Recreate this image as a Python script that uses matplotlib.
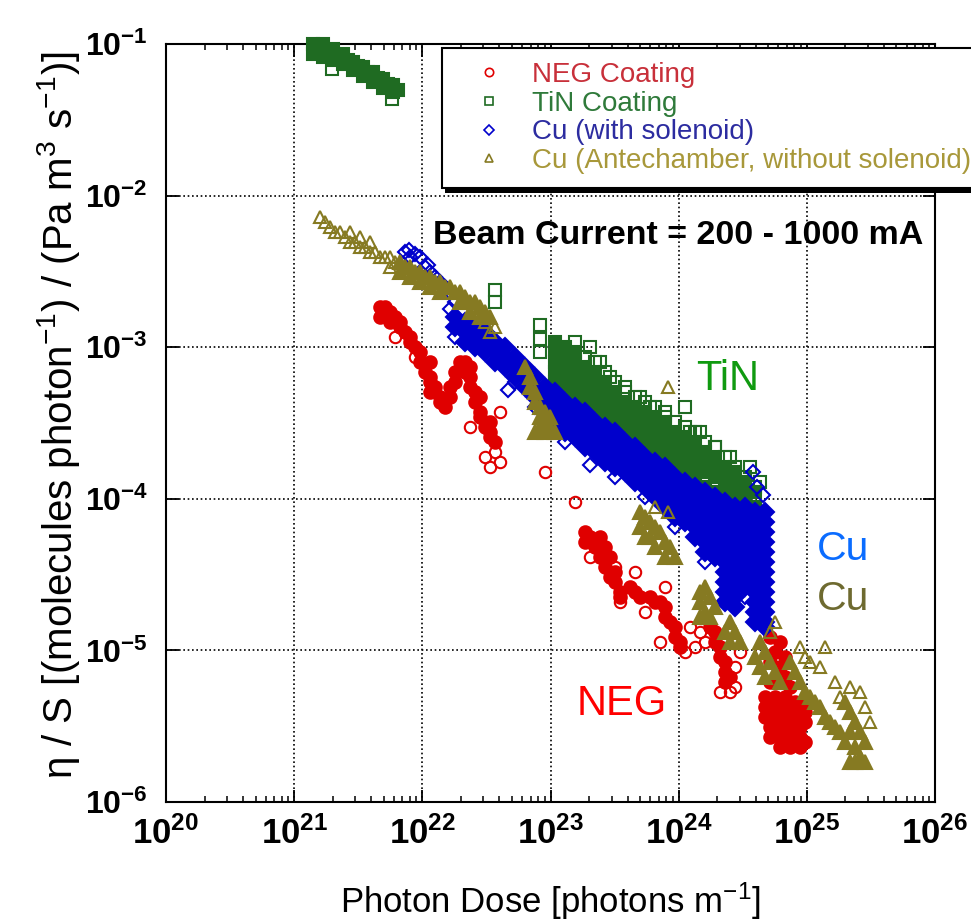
import matplotlib
matplotlib.use('Agg')
import matplotlib.pyplot as plt
from matplotlib.lines import Line2D
from matplotlib.patches import Rectangle
from matplotlib.transforms import IdentityTransform
from matplotlib.ticker import LogLocator, NullLocator, FixedLocator

plt.rcParams['font.family'] = ['Liberation Sans', 'DejaVu Sans']
plt.rcParams['mathtext.fontset'] = 'custom'
plt.rcParams['mathtext.rm'] = 'Liberation Sans'
plt.rcParams['mathtext.bf'] = 'Liberation Sans:bold'
plt.rcParams['mathtext.default'] = 'regular'

# ---------------- data (photon dose [photons/m], eta/S) ----------------
series_labels = ['NEG Coating', 'TiN Coating', 'Cu (with solenoid)',
                 'Cu (Antechamber, without solenoid)']

# NEG coating (red circles)
neg_dense = [
    (4.68e21, 1.84e-3), (5.12e21, 1.84e-3), (5.60e21, 1.71e-3), (4.68e21, 1.58e-3),
    (6.12e21, 1.58e-3), (5.60e21, 1.47e-3), (6.70e21, 1.47e-3), (6.70e21, 1.36e-3),
    (7.33e21, 1.26e-3), (8.02e21, 1.17e-3), (8.02e21, 1.08e-3), (8.77e21, 1.00e-3),
    (9.60e21, 9.29e-4), (9.60e21, 7.98e-4), (1.15e22, 7.98e-4), (1.05e22, 6.86e-4),
    (1.15e22, 6.36e-4), (1.15e22, 5.89e-4), (1.26e22, 5.46e-4), (1.15e22, 5.06e-4),
    (1.37e22, 4.69e-4), (1.37e22, 4.35e-4), (1.50e22, 4.03e-4), (1.64e22, 4.69e-4),
    (1.64e22, 5.46e-4), (1.80e22, 5.89e-4), (1.80e22, 6.86e-4), (1.97e22, 7.98e-4),
    (2.15e22, 7.98e-4), (2.15e22, 6.86e-4), (2.35e22, 7.40e-4), (2.35e22, 6.36e-4),
    (2.35e22, 5.46e-4), (2.58e22, 5.06e-4), (2.82e22, 4.69e-4), (2.58e22, 4.35e-4),
    (2.82e22, 3.74e-4), (2.82e22, 3.46e-4), (3.37e22, 3.21e-4), (3.08e22, 2.98e-4),
    (3.37e22, 2.76e-4), (3.37e22, 2.56e-4), (3.69e22, 2.37e-4),
    (1.86e23, 6.04e-5), (2.03e23, 5.60e-5), (2.43e23, 5.60e-5), (1.86e23, 5.19e-5),
    (2.22e23, 4.81e-5), (2.66e23, 4.81e-5), (2.43e23, 4.13e-5), (2.91e23, 4.13e-5),
    (2.66e23, 3.55e-5), (3.18e23, 3.29e-5), (2.91e23, 3.05e-5), (3.18e23, 2.83e-5),
    (3.48e23, 2.43e-5), (3.48e23, 2.25e-5), (4.17e23, 2.62e-5), (4.56e23, 2.43e-5),
    (4.99e23, 2.25e-5), (5.97e23, 2.25e-5), (6.53e23, 2.08e-5), (7.14e23, 2.08e-5),
    (7.82e23, 1.93e-5), (7.82e23, 1.66e-5), (8.55e23, 1.54e-5), (9.35e23, 1.43e-5),
    (9.35e23, 1.22e-5), (1.02e24, 1.14e-5), (1.02e24, 1.05e-5),
    (1.75e24, 1.43e-5), (1.92e24, 1.32e-5), (1.92e24, 1.14e-5), (2.10e24, 1.05e-5),
    (2.10e24, 9.03e-6), (2.30e24, 8.38e-6), (2.30e24, 7.21e-6), (2.51e24, 6.68e-6),
    (2.30e24, 6.19e-6),
    (5.15e24, 1.22e-5), (6.17e24, 1.14e-5), (5.64e24, 9.75e-6), (6.75e24, 9.03e-6),
    (5.15e24, 8.38e-6), (6.17e24, 7.76e-6), (6.75e24, 6.68e-6), (5.15e24, 6.19e-6),
    (7.38e24, 5.74e-6), (4.71e24, 4.93e-6), (5.64e24, 4.93e-6), (6.75e24, 4.93e-6),
    (8.07e24, 4.57e-6), (9.66e24, 4.57e-6), (4.71e24, 4.24e-6), (5.64e24, 4.24e-6),
    (6.75e24, 4.24e-6), (8.07e24, 4.24e-6), (9.66e24, 3.93e-6), (4.71e24, 3.64e-6),
    (5.64e24, 3.64e-6), (6.75e24, 3.64e-6), (8.07e24, 3.64e-6), (9.66e24, 3.37e-6),
    (5.15e24, 3.13e-6), (6.17e24, 3.13e-6), (7.38e24, 3.13e-6), (8.83e24, 3.13e-6),
    (5.15e24, 2.69e-6), (6.17e24, 2.69e-6), (7.38e24, 2.69e-6), (8.83e24, 2.69e-6),
    (9.66e24, 2.49e-6), (6.17e24, 2.31e-6), (7.38e24, 2.31e-6), (8.83e24, 2.31e-6),
]
neg_open = [
    (6.12e21, 1.17e-3), (8.77e21, 8.61e-4), (2.35e22, 2.98e-4), (4.04e22, 3.74e-4),
    (3.08e22, 1.89e-4), (3.69e22, 2.04e-4), (3.37e22, 1.62e-4), (4.04e22, 1.75e-4),
    (9.06e22, 1.50e-4), (1.55e23, 9.53e-5), (2.03e23, 4.13e-5), (3.18e23, 3.55e-5),
    (4.56e23, 3.29e-5), (3.48e23, 2.08e-5), (7.82e23, 2.62e-5), (1.22e24, 1.43e-5),
    (1.47e24, 1.32e-5), (1.34e24, 1.05e-5), (1.60e24, 1.14e-5), (2.75e24, 7.76e-6),
    (2.75e24, 5.74e-6), (2.51e24, 5.32e-6), (3.01e24, 9.75e-6), (2.10e24, 5.32e-6),
    (7.14e23, 1.14e-5), (1.12e24, 9.75e-6), (5.46e23, 1.79e-5), (4.30e24, 9.75e-6),
]

# TiN coating (green squares)
tin_dense = [
    (1.41e21, 0.100), (1.41e21, 0.0859), (1.53e21, 0.0927), (1.68e21, 0.100),
    (1.68e21, 0.0820), (1.84e21, 0.0885), (2.01e21, 0.0927), (2.01e21, 0.0783),
    (2.20e21, 0.0820), (2.40e21, 0.0859), (2.40e21, 0.0738), (2.63e21, 0.0783),
    (2.88e21, 0.0760), (2.88e21, 0.0673), (3.15e21, 0.0716), (3.44e21, 0.0705),
    (3.44e21, 0.0615), (3.77e21, 0.0653), (4.12e21, 0.0653), (4.12e21, 0.0561),
    (4.51e21, 0.0597), (4.93e21, 0.0587), (4.93e21, 0.0513), (5.40e21, 0.0545),
    (5.90e21, 0.0537), (5.90e21, 0.0482), (6.46e21, 0.0498),
]
tin_dense_cols = [
    (1.08e23, [1.08e-3, 9.29e-4, 7.98e-4, 6.86e-4, 5.89e-4, 5.06e-4]),
    (1.30e23, [1.00e-3, 8.61e-4, 7.40e-4, 6.36e-4, 5.46e-4, 4.69e-4]),
    (1.55e23, [9.29e-4, 7.98e-4, 6.86e-4, 5.89e-4, 5.06e-4, 4.35e-4]),
    (1.86e23, [7.40e-4, 6.36e-4, 5.46e-4, 4.69e-4, 4.03e-4]),
    (2.22e23, [6.86e-4, 5.89e-4, 5.06e-4, 4.35e-4, 3.74e-4]),
    (2.66e23, [5.89e-4, 5.06e-4, 4.35e-4, 3.74e-4, 3.21e-4]),
    (3.18e23, [5.06e-4, 4.35e-4, 3.74e-4, 3.21e-4, 2.76e-4]),
    (3.81e23, [4.35e-4, 3.74e-4, 3.21e-4, 2.76e-4, 2.56e-4]),
    (4.56e23, [4.03e-4, 3.46e-4, 2.98e-4, 2.56e-4, 2.20e-4]),
    (5.46e23, [3.74e-4, 3.21e-4, 2.76e-4, 2.37e-4, 2.04e-4]),
    (6.53e23, [3.46e-4, 2.98e-4, 2.56e-4, 2.20e-4, 1.89e-4]),
    (7.82e23, [3.21e-4, 2.76e-4, 2.37e-4, 2.04e-4, 1.75e-4]),
    (9.35e23, [2.76e-4, 2.37e-4, 2.04e-4, 1.75e-4, 1.50e-4]),
    (1.12e24, [2.56e-4, 2.20e-4, 1.89e-4, 1.62e-4, 1.39e-4]),
    (1.34e24, [2.37e-4, 2.04e-4, 1.75e-4, 1.50e-4, 1.29e-4]),
    (1.60e24, [2.04e-4, 1.75e-4, 1.50e-4, 1.20e-4]),
    (1.92e24, [1.89e-4, 1.62e-4, 1.39e-4, 1.11e-4]),
    (2.30e24, [1.62e-4, 1.39e-4, 1.20e-4, 1.03e-4]),
    (2.75e24, [1.50e-4, 1.29e-4, 1.11e-4, 9.53e-5]),
    (3.29e24, [1.29e-4, 1.11e-4, 9.53e-5]),
    (3.94e24, [1.11e-4, 8.83e-5]),
]
tin_open = [
    (1.97e21, 0.0684), (5.80e21, 0.0434), (3.69e22, 2.38e-3), (3.69e22, 1.99e-3),
    (8.28e22, 1.40e-3), (8.28e22, 1.13e-3), (8.28e22, 9.29e-4), (1.55e23, 1.08e-3),
    (2.03e23, 1.00e-3), (2.43e23, 7.98e-4), (2.91e23, 6.36e-4), (3.81e23, 5.46e-4),
    (4.99e23, 4.69e-4), (5.97e23, 4.03e-4), (7.82e23, 3.46e-4), (1.12e24, 4.03e-4),
    (1.22e24, 2.76e-4), (1.47e24, 2.76e-4), (1.92e24, 2.20e-4), (2.51e24, 1.89e-4),
    (3.60e24, 1.62e-4), (4.30e24, 1.29e-4),
    (1.86e23, 8.61e-4), (2.22e23, 7.98e-4), (2.66e23, 6.86e-4), (3.18e23, 5.89e-4),
    (3.81e23, 5.06e-4), (4.56e23, 4.69e-4), (5.46e23, 4.35e-4), (6.53e23, 4.03e-4),
    (7.82e23, 3.74e-4), (9.35e23, 3.21e-4), (1.12e24, 2.98e-4), (1.34e24, 2.76e-4),
    (1.60e24, 2.37e-4), (1.92e24, 2.20e-4), (2.30e24, 1.89e-4), (2.75e24, 1.62e-4),
    (3.29e24, 1.39e-4), (3.94e24, 1.20e-4),
]

# Cu with solenoid (blue diamonds)
cu_dense_cols = [
    (1.80e22, [1.58e-3, 1.36e-3]),
    (2.15e22, [1.47e-3, 1.26e-3, 1.08e-3]),
    (2.58e22, [1.36e-3, 1.17e-3, 1.00e-3]),
    (3.08e22, [1.26e-3, 1.08e-3, 9.29e-4]),
    (3.69e22, [1.08e-3, 9.29e-4, 7.98e-4]),
    (4.42e22, [1.00e-3, 8.61e-4, 7.40e-4]),
    (5.28e22, [8.61e-4, 7.40e-4, 6.36e-4]),
    (6.32e22, [7.40e-4, 6.36e-4, 5.46e-4]),
    (7.57e22, [6.36e-4, 5.46e-4, 4.69e-4]),
    (9.06e22, [5.46e-4, 4.69e-4, 4.03e-4, 3.74e-4]),
    (1.08e23, [5.06e-4, 4.35e-4, 3.74e-4, 3.21e-4]),
    (1.30e23, [4.35e-4, 3.74e-4, 3.21e-4, 2.76e-4]),
    (1.55e23, [4.03e-4, 3.46e-4, 2.98e-4, 2.56e-4]),
    (1.86e23, [3.74e-4, 3.21e-4, 2.76e-4, 2.37e-4, 2.20e-4]),
    (2.22e23, [3.21e-4, 2.76e-4, 2.37e-4, 2.04e-4]),
    (2.66e23, [2.98e-4, 2.56e-4, 2.20e-4, 1.89e-4, 1.75e-4]),
    (3.18e23, [2.76e-4, 2.37e-4, 2.04e-4, 1.75e-4, 1.62e-4]),
    (3.81e23, [2.37e-4, 2.04e-4, 1.75e-4, 1.50e-4]),
    (4.56e23, [2.20e-4, 1.89e-4, 1.62e-4, 1.39e-4, 1.29e-4]),
    (5.46e23, [1.89e-4, 1.62e-4, 1.39e-4, 1.20e-4]),
    (6.53e23, [1.75e-4, 1.50e-4, 1.29e-4, 1.11e-4, 1.03e-4]),
    (7.82e23, [1.62e-4, 1.39e-4, 1.20e-4, 1.03e-4, 8.83e-5]),
    (9.35e23, [1.39e-4, 1.20e-4, 1.03e-4, 8.83e-5, 7.59e-5]),
    (1.12e24, [1.29e-4, 1.11e-4, 9.53e-5, 8.19e-5, 7.03e-5]),
    (1.34e24, [1.20e-4, 1.03e-4, 8.83e-5, 7.59e-5, 6.52e-5, 5.60e-5]),
    (1.60e24, [1.11e-4, 9.53e-5, 8.19e-5, 7.03e-5, 6.04e-5, 5.19e-5, 4.46e-5]),
    (1.92e24, [1.03e-4, 8.83e-5, 7.59e-5, 6.52e-5, 5.60e-5, 4.81e-5, 4.13e-5]),
    (2.30e24, [9.53e-5, 8.19e-5, 7.03e-5, 6.04e-5, 5.19e-5, 4.46e-5, 3.83e-5, 3.29e-5,
               2.83e-5, 2.43e-5, 2.08e-5]),
    (2.75e24, [8.83e-5, 7.59e-5, 6.52e-5, 5.60e-5, 4.81e-5, 4.13e-5, 3.55e-5, 3.05e-5,
               2.62e-5, 2.25e-5, 1.93e-5]),
    (3.29e24, [8.83e-5, 7.59e-5, 6.52e-5, 5.60e-5, 4.81e-5, 4.13e-5, 3.55e-5, 3.05e-5,
               2.62e-5]),
    (3.94e24, [8.19e-5, 7.03e-5, 6.04e-5, 5.19e-5, 4.46e-5, 3.83e-5, 3.29e-5, 2.83e-5,
               2.43e-5, 2.08e-5, 1.79e-5, 1.54e-5]),
    (4.71e24, [8.19e-5, 7.03e-5, 6.04e-5, 5.19e-5, 4.46e-5, 3.83e-5, 3.29e-5, 2.83e-5,
               2.43e-5, 2.08e-5, 1.79e-5, 1.54e-5, 1.43e-5]),
]
cu_open = [
    (7.33e21, 4.25e-3), (8.02e21, 3.94e-3), (9.60e21, 3.94e-3), (1.05e22, 3.38e-3),
    (1.15e22, 3.13e-3), (1.26e22, 2.90e-3), (1.50e22, 2.49e-3), (1.64e22, 2.31e-3),
    (1.80e22, 1.99e-3), (7.80e21, 4.40e-3), (8.80e21, 4.10e-3), (1.10e22, 3.50e-3),
    (1.37e22, 2.69e-3), (1.64e22, 1.79e-3), (1.80e22, 1.17e-3), (4.66e22, 5.23e-4),
    (2.03e23, 1.67e-4), (3.80e24, 1.50e-4), (4.55e24, 1.06e-4), (4.08e24, 1.20e-4),
    (5.28e22, 5.89e-4), (7.57e22, 4.03e-4), (1.30e23, 2.37e-4), (3.18e23, 1.39e-4),
    (5.46e23, 1.03e-4), (9.35e23, 6.52e-5), (1.60e24, 3.83e-5), (3.29e24, 2.25e-5),
]

# Cu antechamber, without solenoid (olive triangles)
ante_dense = [
    (6.70e21, 3.65e-3), (6.70e21, 3.13e-3), (7.33e21, 3.38e-3), (8.02e21, 3.38e-3),
    (8.02e21, 2.90e-3), (8.77e21, 3.13e-3), (9.60e21, 3.13e-3), (9.60e21, 2.69e-3),
    (1.05e22, 2.90e-3), (1.15e22, 2.90e-3), (1.15e22, 2.49e-3), (1.26e22, 2.69e-3),
    (1.37e22, 2.69e-3), (1.37e22, 2.31e-3), (1.50e22, 2.49e-3), (1.64e22, 2.49e-3),
    (1.80e22, 2.31e-3), (1.97e22, 2.31e-3), (1.97e22, 1.99e-3), (2.15e22, 2.14e-3),
    (2.35e22, 1.99e-3), (2.35e22, 1.71e-3), (2.58e22, 1.99e-3), (2.82e22, 1.84e-3),
    (2.82e22, 1.58e-3), (3.08e22, 1.71e-3), (3.37e22, 1.58e-3),
    (6.32e22, 7.40e-4), (6.92e22, 6.36e-4), (6.92e22, 5.46e-4), (7.57e22, 5.06e-4),
    (7.57e22, 4.35e-4), (8.28e22, 4.03e-4), (8.28e22, 3.46e-4), (9.06e22, 3.74e-4),
    (9.06e22, 3.21e-4), (9.91e22, 2.98e-4), (8.28e22, 2.98e-4), (1.08e23, 2.76e-4),
    (9.06e22, 2.76e-4), (7.57e22, 2.76e-4), (9.91e22, 3.46e-4),
    (4.99e23, 8.19e-5), (5.46e23, 7.59e-5), (5.97e23, 7.03e-5), (4.99e23, 6.52e-5),
    (6.53e23, 6.52e-5), (7.14e23, 6.04e-5), (5.46e23, 5.60e-5), (5.97e23, 5.60e-5),
    (7.82e23, 5.19e-5), (6.53e23, 4.81e-5), (8.55e23, 4.81e-5), (7.82e23, 4.13e-5),
    (9.35e23, 4.13e-5),
    (1.47e24, 2.43e-5), (1.60e24, 2.62e-5), (1.75e24, 2.25e-5), (1.47e24, 2.08e-5),
    (1.92e24, 1.93e-5), (1.60e24, 1.79e-5), (1.75e24, 1.66e-5), (1.47e24, 1.66e-5),
    (2.51e24, 1.54e-5), (2.30e24, 1.32e-5), (2.75e24, 1.32e-5), (2.51e24, 1.14e-5),
    (3.01e24, 1.14e-5),
    (4.30e24, 1.14e-5), (4.71e24, 9.75e-6), (3.94e24, 9.03e-6), (5.15e24, 8.38e-6),
    (4.30e24, 7.76e-6), (5.64e24, 7.21e-6), (4.71e24, 6.68e-6), (6.17e24, 6.19e-6),
    (7.38e24, 8.38e-6), (8.07e24, 7.21e-6), (8.83e24, 6.19e-6), (9.66e24, 5.32e-6),
    (1.06e25, 4.93e-6), (1.16e25, 4.57e-6), (1.27e25, 4.24e-6), (1.39e25, 3.64e-6),
    (1.52e25, 3.37e-6), (1.66e25, 3.13e-6), (1.81e25, 2.90e-6), (1.99e25, 4.57e-6),
    (2.17e25, 3.93e-6), (2.38e25, 3.37e-6), (2.60e25, 2.90e-6), (2.17e25, 2.90e-6),
    (1.99e25, 2.49e-6), (2.84e25, 2.49e-6), (2.38e25, 2.31e-6), (2.60e25, 1.98e-6),
    (2.17e25, 1.84e-6), (2.84e25, 1.84e-6), (2.38e25, 1.84e-6),
]
ante_open = [
    (1.59e21, 7.22e-3), (1.74e21, 6.70e-3), (1.91e21, 6.21e-3), (2.08e21, 5.75e-3),
    (2.28e21, 5.75e-3), (2.49e21, 5.33e-3), (2.73e21, 4.94e-3), (2.73e21, 5.75e-3),
    (2.99e21, 4.94e-3), (3.27e21, 4.58e-3), (3.27e21, 5.33e-3), (3.57e21, 4.58e-3),
    (3.91e21, 4.25e-3), (3.91e21, 4.94e-3), (4.28e21, 4.25e-3), (4.68e21, 3.94e-3),
    (5.12e21, 3.94e-3), (5.60e21, 3.94e-3), (5.60e21, 3.38e-3), (6.12e21, 3.65e-3),
    (3.08e22, 1.47e-3), (3.69e22, 1.36e-3), (3.37e22, 1.26e-3), (8.26e23, 5.46e-4),
    (8.26e23, 8.19e-5), (6.53e23, 8.83e-5), (5.64e24, 1.54e-5), (5.15e24, 1.32e-5),
    (8.83e24, 1.05e-5), (1.39e25, 1.05e-5), (1.06e25, 8.38e-6), (1.27e25, 7.76e-6),
    (1.66e25, 6.19e-6), (2.17e25, 5.74e-6), (2.60e25, 5.32e-6), (1.81e25, 4.93e-6),
    (3.11e25, 3.37e-6), (2.84e25, 4.24e-6), (9.66e24, 9.03e-6),
]

x_tick_exps = [20, 21, 22, 23, 24, 25, 26]
y_tick_exps = [-6, -5, -4, -3, -2, -1]

# ---------------- styling ----------------
neg_c, tin_c, cu_c, ante_c = '#e00000', '#1f6b22', '#0000cc', '#867a22'
legend_text_colors = ['#c8303a', '#2f7a3a', '#2c2ca0', '#a8983a']

fig = plt.figure(figsize=(9.71, 9.21), dpi=100)
ax = fig.add_axes([166 / 971, 119 / 921, 769 / 971, 758 / 921])
ax.set_xscale('log')
ax.set_yscale('log')
ax.set_xlim(1e20, 1e26)
ax.set_ylim(1e-6, 1e-1)


def flatten(cols):
    return [(x, y) for x, ys in cols for y in ys]


def draw(pts, marker, ms, color, filled, z):
    if not pts:
        return
    xs, ys = zip(*pts)
    ax.plot(xs, ys, ls='none', marker=marker, ms=ms,
            mfc=color if filled else 'none', mec=color, mew=1.5,
            clip_on=False, zorder=z)


draw(neg_dense, 'o', 9.0, neg_c, True, 3)
draw(neg_open, 'o', 8.2, neg_c, False, 3)
draw(tin_dense + flatten(tin_dense_cols), 's', 9.0, tin_c, True, 4)
draw(tin_open, 's', 9.0, tin_c, False, 4)
draw(flatten(cu_dense_cols), 'D', 8.8, cu_c, True, 5)
draw(cu_open, 'D', 7.0, cu_c, False, 5)
draw(ante_dense, '^', 9.8, ante_c, True, 6)
draw(ante_open, '^', 9.0, ante_c, False, 6)

# axes, ticks, grid
ax.xaxis.set_major_locator(FixedLocator([10.0 ** e for e in x_tick_exps]))
ax.yaxis.set_major_locator(FixedLocator([10.0 ** e for e in y_tick_exps]))
ax.xaxis.set_minor_locator(LogLocator(base=10, subs=[2, 3, 4, 5, 6, 7, 8, 9], numticks=20))
ax.yaxis.set_minor_locator(NullLocator())
ax.set_xticklabels([r'$\mathbf{10^{%d}}$' % e for e in x_tick_exps])
ax.set_yticklabels([r'$\mathbf{10^{%d}}$' % e for e in y_tick_exps])
ax.tick_params(which='both', direction='in', top=True, right=True, color='black')
ax.tick_params(which='major', length=9, width=1.3)
ax.tick_params(which='minor', length=4.5, width=1.1)
ax.tick_params(axis='x', which='major', labelsize=25, pad=10)
ax.tick_params(axis='y', which='major', labelsize=23, pad=13)
for sp in ax.spines.values():
    sp.set_linewidth(1.5)
ax.set_axisbelow(True)
ax.grid(True, which='major', color='black', linestyle=(0, (1, 1.6)), linewidth=1.2)

ax.set_xlabel('Photon Dose [photons m$^{-1}$]', fontsize=25)
ax.xaxis.set_label_coords(0.5, -0.103)
ax.set_ylabel('\u03b7 / S [(molecules photon$^{-1}$) / (Pa m$^{3}$ s$^{-1}$)]', fontsize=29)
ax.yaxis.set_label_coords(-0.109, 0.51)

# annotations
ax.text(0.347, 0.736, 'Beam Current = 200 - 1000 mA', transform=ax.transAxes,
        fontsize=24.5, fontweight='bold', va='baseline', ha='left', color='black')
ax.text(0.690, 0.5435, 'TiN', transform=ax.transAxes, fontsize=30,
        va='baseline', ha='left', color='#109a10')
ax.text(0.846, 0.319, 'Cu', transform=ax.transAxes, fontsize=29.5,
        va='baseline', ha='left', color='#0a6cff')
ax.text(0.846, 0.253, 'Cu', transform=ax.transAxes, fontsize=29.5,
        va='baseline', ha='left', color='#6e6a30')
ax.text(0.534, 0.115, 'NEG', transform=ax.transAxes, fontsize=30,
        va='baseline', ha='left', color='#ff0000')

# legend
handles = [
    Line2D([], [], ls='none', marker='o', ms=6, mfc='none', mec=neg_c, mew=1.2),
    Line2D([], [], ls='none', marker='s', ms=6, mfc='none', mec=tin_c, mew=1.2),
    Line2D([], [], ls='none', marker='D', ms=5, mfc='none', mec=cu_c, mew=1.2),
    Line2D([], [], ls='none', marker='^', ms=6, mfc='none', mec=ante_c, mew=1.2),
]
leg = fig.legend(handles, series_labels, loc='upper left',
                 bbox_to_anchor=(442 / 971, 1 - 48 / 921), bbox_transform=fig.transFigure,
                 frameon=True, fancybox=False, edgecolor='black', framealpha=1,
                 borderpad=0.5, handlelength=2.4, handletextpad=0.35,
                 labelspacing=0.1, fontsize=20, borderaxespad=0, numpoints=1)
leg.get_frame().set_linewidth(1.5)
for t, c in zip(leg.get_texts(), legend_text_colors):
    t.set_color(c)

fig.canvas.draw()
bb = leg.get_window_extent()
shadow = Rectangle((bb.x0 + 3, bb.y0 - 5), bb.width, bb.height,
                   transform=IdentityTransform(), facecolor='black',
                   edgecolor='none', zorder=leg.get_zorder() - 0.5)
fig.add_artist(shadow)

fig.savefig('out.png', dpi=100)
